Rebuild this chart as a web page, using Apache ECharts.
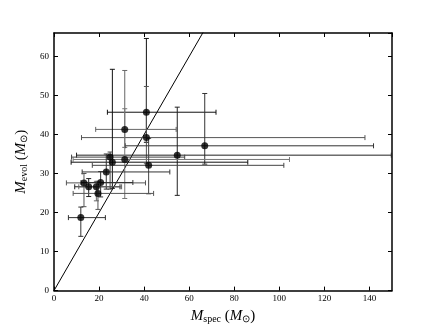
<!DOCTYPE html>
<html>
<head>
<meta charset="utf-8">
<script src="https://cdn.jsdelivr.net/npm/echarts@6/dist/echarts.min.js"></script>
<style>
html,body{margin:0;padding:0;background:#fff;}
#chart{width:436px;height:329px;}
</style>
</head>
<body>
<div id="chart"></div>
<script>
// spectroscopic vs evolutionary masses, with asymmetric errors
var massSpec = [41.0, 31.4, 41.0, 66.9, 54.7, 25.9, 24.9, 31.4, 42.0, 23.2, 13.3, 15.4, 18.8, 20.7, 19.5, 11.9];
var massEvol = [45.7, 41.3, 39.2, 37.1, 34.7, 32.9, 34.2, 33.6, 32.1, 30.4, 27.6, 26.6, 26.6, 27.7, 24.9, 18.7];
var specLo   = [23.7, 18.5, 12.2, 31.6, 10.0,  7.6,  7.8,  8.5, 17.0, 12.5,  5.5,  9.2, 11.0, 12.0,  8.5,  6.4];
var specHi   = [71.9, 54.2, 138.0, 141.8, 149.7, 86.0, 58.0, 104.5, 102.0, 51.4, 40.6, 29.3, 30.0, 35.0, 44.2, 22.8];
var evolLo   = [38.0, 36.7, 32.5, 32.4, 24.4, 26.2, 26.0, 23.6, 24.8, 26.0, 21.5, 24.1, 23.0, 24.0, 20.8, 13.9];
var evolHi   = [64.6, 56.4, 52.3, 50.5, 47.0, 56.7, 35.5, 46.6, 39.0, 35.0, 30.0, 28.7, 28.0, 30.5, 28.0, 21.4];
var barShade = ['#111', '#666', '#555', '#333', '#222', '#111', '#444', '#777', '#444', '#333', '#555', '#222', '#666', '#333', '#555', '#333'];
var oneToOne = [[0, 0], [70, 70]];

var chart = echarts.init(document.getElementById('chart'));

var errData = [];
for (var i = 0; i < massSpec.length; i++) {
	errData.push([massSpec[i], massEvol[i], specLo[i], specHi[i], evolLo[i], evolHi[i], i]);
}

function renderErr(params, api) {
	var c = api.coord([api.value(0), api.value(1)]);
	var l = api.coord([api.value(2), api.value(1)]);
	var r = api.coord([api.value(3), api.value(1)]);
	var b = api.coord([api.value(0), api.value(4)]);
	var t = api.coord([api.value(0), api.value(5)]);
	var col = barShade[api.value(6)];
	var st = {stroke: col, lineWidth: 1};
	var cap = 2.5;
	function ln(x1, y1, x2, y2) {
		return {type: 'line', shape: {x1: x1, y1: y1, x2: x2, y2: y2}, style: st};
	}
	return {
		type: 'group',
		children: [
			ln(l[0], c[1], r[0], c[1]),
			ln(c[0], b[1], c[0], t[1]),
			ln(l[0], c[1] - cap, l[0], c[1] + cap),
			ln(r[0], c[1] - cap, r[0], c[1] + cap),
			ln(c[0] - cap, b[1], c[0] + cap, b[1]),
			ln(c[0] - cap, t[1], c[0] + cap, t[1])
		]
	};
}

var serif = 'Liberation Serif';
var tickStyle = {show: true, inside: true, length: 4, lineStyle: {color: '#000', width: 1}};
var lineStyle = {show: true, onZero: false, lineStyle: {color: '#000', width: 1.5}};
var richName = {
	i: {fontFamily: serif, fontStyle: 'italic', fontSize: 15, color: '#000'},
	s: {fontFamily: serif, fontSize: 10, color: '#000', verticalAlign: 'bottom', padding: [6, 0, 0, 0]},
	n: {fontFamily: serif, fontSize: 15, color: '#000'}
};

option = {
	animation: false,
	backgroundColor: '#fff',
	grid: {left: 54, top: 33, right: 44, bottom: 33},
	xAxis: [
		{
			type: 'value', min: 0, max: 150, interval: 20,
			axisLine: lineStyle, axisTick: tickStyle, splitLine: {show: false},
			axisLabel: {color: '#000', fontFamily: serif, fontSize: 9, margin: 4, showMaxLabel: false},
			name: '{i|M}{s|spec}{n| (}{i|M}{s|⊙}{n|)}',
			nameLocation: 'middle', nameGap: 17,
			nameTextStyle: {rich: richName}
		},
		{
			type: 'value', min: 0, max: 150, interval: 20, position: 'top',
			axisLine: lineStyle, axisTick: tickStyle, axisLabel: {show: false}, splitLine: {show: false}
		}
	],
	yAxis: [
		{
			type: 'value', min: 0, max: 66, interval: 10,
			axisLine: lineStyle, axisTick: tickStyle, splitLine: {show: false},
			axisLabel: {color: '#000', fontFamily: serif, fontSize: 9, margin: 5, showMaxLabel: false},
			name: '{i|M}{s|evol}{n| (}{i|M}{s|⊙}{n|)}',
			nameLocation: 'middle', nameGap: 24,
			nameTextStyle: {rich: richName}
		},
		{
			type: 'value', min: 0, max: 66, interval: 10, position: 'right',
			axisLine: lineStyle, axisTick: tickStyle, axisLabel: {show: false}, splitLine: {show: false}
		}
	],
	series: [
		{
			type: 'line',
			data: oneToOne,
			showSymbol: false,
			clip: true,
			lineStyle: {color: '#000', width: 1},
			z: 1
		},
		{
			type: 'custom',
			renderItem: renderErr,
			data: errData,
			encode: {x: 0, y: 1},
			clip: true,
			z: 2
		},
		{
			type: 'scatter',
			data: massSpec.map(function (v, k) { return [v, massEvol[k]]; }),
			symbolSize: 7,
			itemStyle: {color: '#000'},
			z: 3
		}
	]
};
chart.setOption(option);
</script>
</body>
</html>
